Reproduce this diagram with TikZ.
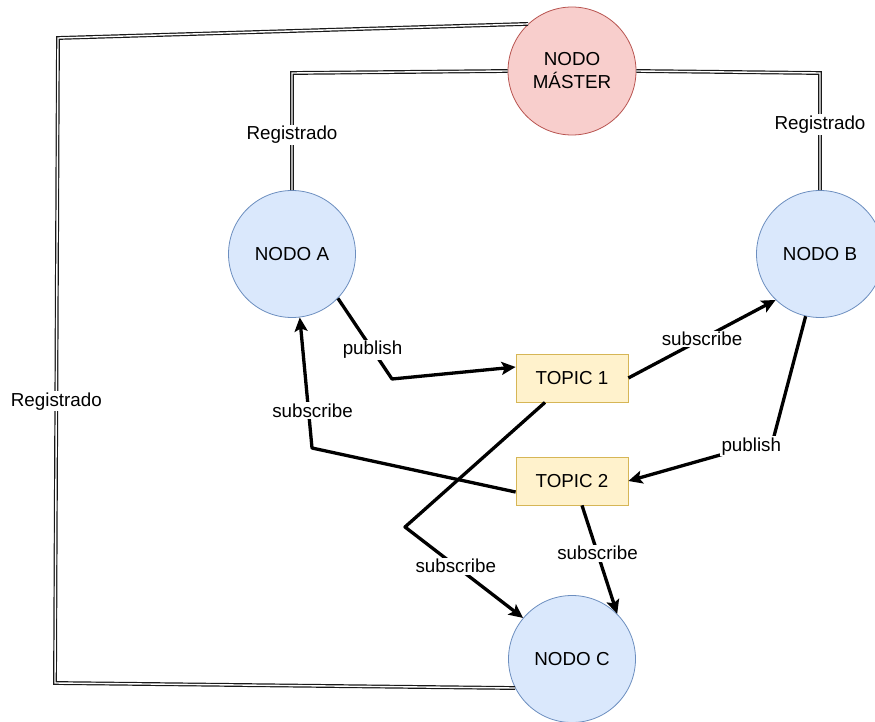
\documentclass[tikz,border=0pt]{standalone}
\usepackage{fontspec}
\setmainfont{Liberation Sans}
\usetikzlibrary{arrows.meta}
\definecolor{nodefill}{HTML}{DAE8FC}
\definecolor{nodeline}{HTML}{6C8EBF}
\definecolor{masterfill}{HTML}{F8CECC}
\definecolor{masterline}{HTML}{B85450}
\definecolor{topicfill}{HTML}{FFF2CC}
\definecolor{topicline}{HTML}{D6B656}
\begin{document}
\begin{tikzpicture}[x=1pt,y=-1pt,
  font=\fontsize{18.8}{23}\selectfont,
  rosnode/.style={circle, draw=nodeline, fill=nodefill, line width=0.8pt,
    minimum size=127pt, inner sep=0pt},
  masternode/.style={circle, draw=masterline, fill=masterfill, line width=0.8pt,
    minimum size=128pt, inner sep=0pt, align=center},
  topicbox/.style={rectangle, draw=topicline, fill=topicfill, line width=0.8pt,
    minimum width=112pt, minimum height=48pt, inner sep=0pt},
  reglink/.style={draw=black!90, line width=1.2pt, double=white,
    double distance=1.4pt},
  msg/.style={draw=black, line width=3.3pt, line join=round,
    -{Stealth[length=14pt,width=13pt,inset=3pt]}},
  lbl/.style={fill=white, inner sep=1.5pt, text=black}]

\useasboundingbox (0,0) rectangle (875,722);
\clip (0,0) rectangle (875,722);

% nodes
\node[masternode] (master) at (572,71) {NODO\\MÁSTER};
\node[rosnode] (nodeA) at (292,254) {NODO A};
\node[rosnode] (nodeB) at (820,254) {NODO B};
\node[rosnode] (nodeC) at (572,659) {NODO C};
\node[topicbox] (topic1) at (572,378) {TOPIC 1};
\node[topicbox] (topic2) at (572,481) {TOPIC 2};

% corner points of the registration links
\coordinate (cTL) at (58,38);
\coordinate (cBL) at (55,683);
\coordinate (cA) at (292,73);
\coordinate (cB) at (820,73);

% registration links to the master
\draw[reglink] (master.133) -- (cTL)
  -- node[lbl, pos=0.563] {Registrado} (cBL) -- (nodeC.207);
\draw[reglink] (master.west) -- (cA)
  -- node[lbl, pos=0.53] {Registrado} (nodeA.north);
\draw[reglink] (master.east) -- (cB)
  -- node[lbl, pos=0.44] {Registrado} (nodeB.north);

% bend points of the message links
\coordinate (bA) at (392,379);
\coordinate (bB) at (773,440);
\coordinate (bT2) at (312,448);
\coordinate (bT1) at (405,527);

% publish / subscribe links
\draw[msg] (nodeA.-44) -- node[lbl, pos=0.64] {publish} (bA)
  -- ([yshift=11pt]topic1.west);
\draw[msg] (topic1.east) -- node[lbl, pos=0.5] {subscribe} (nodeB.226);
\draw[msg] (nodeB.257) -- (bB)
  -- node[lbl, pos=0.15] {publish} (topic2.east);
\draw[msg] ([yshift=-11pt]topic2.west) -- (bT2)
  -- node[lbl, pos=0.285, xshift=4pt] {subscribe} (nodeA.277);
\draw[msg] ([xshift=-27pt]topic1.south) -- (bT1)
  -- node[lbl, pos=0.43] {subscribe} (nodeC.140);
\draw[msg] ([xshift=10pt]topic2.south)
  -- node[lbl, pos=0.44] {subscribe} (nodeC.45);
\end{tikzpicture}
\end{document}
